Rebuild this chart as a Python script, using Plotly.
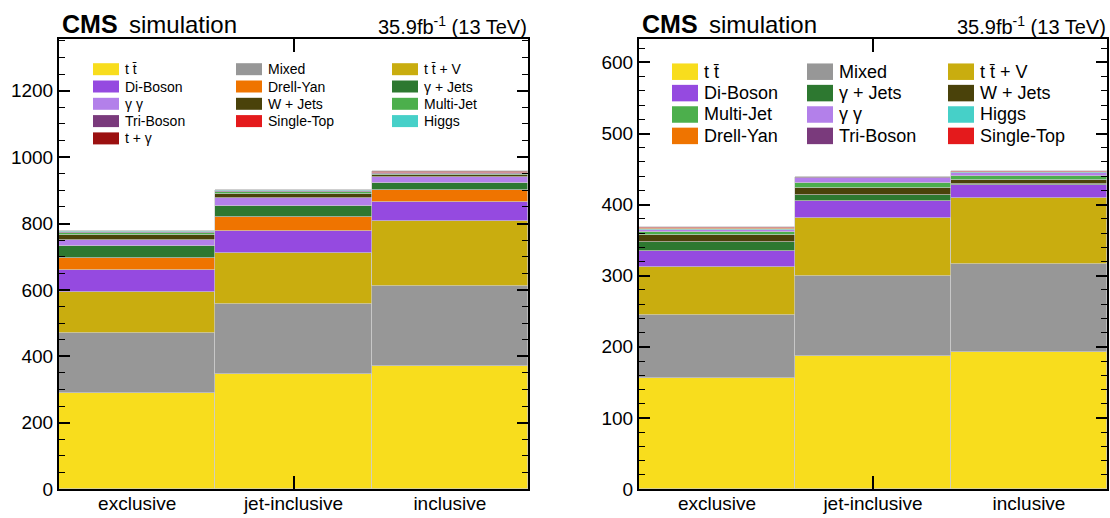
import plotly.graph_objects as go

W, H = 1110, 518

categories = ["exclusive", "jet-inclusive", "inclusive"]

# ---- left panel: processes in stacking order (bottom -> top) ----
left_names = ["t t\u0304", "Mixed", "t t\u0304 + V", "Di-Boson", "Drell-Yan", "\u03b3 + Jets",
              "\u03b3 \u03b3", "W + Jets", "Multi-Jet", "Tri-Boson", "Single-Top", "Higgs", "t + \u03b3"]
left_ttbar = [290, 346, 371]
left_mixed = [181, 212, 240]
left_ttv = [124, 154, 198]
left_diboson = [64, 66, 56]
left_dy = [38, 42, 36]
left_gjets = [34, 32, 22]
left_gg = [20, 24, 16]
left_wjets = [13, 12, 6]
left_multijet = [6, 6, 5]
left_triboson = [3, 3, 2.5]
left_singletop = [2, 2, 2]
left_higgs = [1.5, 1.5, 1.5]
left_tgamma = [1.5, 1.5, 1]
left_values = [left_ttbar, left_mixed, left_ttv, left_diboson, left_dy, left_gjets, left_gg,
               left_wjets, left_multijet, left_triboson, left_singletop, left_higgs, left_tgamma]

# ---- right panel ----
right_names = ["t t\u0304", "Mixed", "t t\u0304 + V", "Di-Boson", "\u03b3 + Jets", "W + Jets",
               "Multi-Jet", "\u03b3 \u03b3", "Higgs", "Drell-Yan", "Tri-Boson", "Single-Top"]
right_ttbar = [156, 186.4, 192.4]
right_mixed = [88.5, 113.7, 123.6]
right_ttv = [68, 81.5, 94]
right_diboson = [22, 23, 17]
right_gjets = [13, 8.4, 2.3]
right_wjets = [10.3, 10.3, 4.7]
right_multijet = [3.7, 6.6, 6]
right_gg = [2.8, 7.5, 5]
right_higgs = [1.0, 0.3, 0.5]
right_dy = [1.2, 0.3, 0.5]
right_triboson = [0.8, 0.2, 0.3]
right_singletop = [1.0, 0.3, 0.5]
right_values = [right_ttbar, right_mixed, right_ttv, right_diboson, right_gjets, right_wjets,
                right_multijet, right_gg, right_higgs, right_dy, right_triboson, right_singletop]

colors = {
    "t t\u0304": "#f8dd1d",
    "Mixed": "#979797",
    "t t\u0304 + V": "#c9ad0f",
    "Di-Boson": "#954ae0",
    "Drell-Yan": "#ef7400",
    "\u03b3 + Jets": "#2d7830",
    "\u03b3 \u03b3": "#b380ea",
    "W + Jets": "#4a420a",
    "Multi-Jet": "#4caf4c",
    "Tri-Boson": "#7a3a7c",
    "Single-Top": "#e41a1c",
    "Higgs": "#46d0c8",
    "t + \u03b3": "#9b1010",
}

FONT = "Liberation Sans, Arial, Helvetica, sans-serif"

fig = go.Figure()

xpos = list(range(len(categories)))

for names, values, xa, ya in [(left_names, left_values, "x", "y"),
                              (right_names, right_values, "x2", "y2")]:
    for name, vals in zip(names, values):
        fig.add_trace(go.Bar(
            x=xpos, y=vals, name=name, width=1.0,
            marker=dict(color=colors[name], line=dict(color="rgba(205,205,205,0.85)", width=0.8)),
            xaxis=xa, yaxis=ya, showlegend=False, hoverinfo="name+y",
        ))

# panel frames in pixel coordinates
L = dict(x0=59, x1=528, y0=39, y1=489)
R = dict(x0=639, x1=1107, y0=39, y1=489)


def px(x):
    return x / W


def py(y):
    return (H - y) / H


def xaxis_cfg(p):
    return dict(
        domain=[px(p["x0"]), px(p["x1"])], range=[-0.5, 2.5], automargin=False,
        tickmode="array", tickvals=xpos, ticktext=categories, ticks="",
        ticklabelstandoff=-4,
        showline=True, linecolor="black", linewidth=2, mirror="ticks",
        showgrid=False, zeroline=False,
        tickfont=dict(family=FONT, size=19, color="black"),
        minor=dict(tickmode="array", tickvals=[1], ticks="inside", ticklen=13,
                   tickcolor="black", tickwidth=1.5, showgrid=False),
        fixedrange=True,
    )


def yaxis_cfg(p, top, dtick, mdtick, anchor):
    return dict(
        domain=[py(p["y1"]), py(p["y0"])], range=[0, top], anchor=anchor, automargin=False,
        dtick=dtick, ticks="inside", ticklen=11, tickwidth=1.5, tickcolor="black",
        showline=True, linecolor="black", linewidth=2, mirror="ticks",
        showgrid=False, zeroline=False,
        tickfont=dict(family=FONT, size=19, color="black"),
        minor=dict(dtick=mdtick, ticks="inside", ticklen=6, tickwidth=1.2,
                   tickcolor="black", showgrid=False),
        fixedrange=True,
    )


fig.update_layout(
    width=W, height=H,
    margin=dict(l=0, r=0, t=0, b=0, autoexpand=False),
    paper_bgcolor="white", plot_bgcolor="white",
    barmode="stack", bargap=0,
    xaxis=dict(xaxis_cfg(L), anchor="y"),
    yaxis=yaxis_cfg(L, 1356, 200, 50, "x"),
    xaxis2=dict(xaxis_cfg(R), anchor="y2"),
    yaxis2=yaxis_cfg(R, 633, 100, 20, "x2"),
    font=dict(family=FONT, color="black"),
)

annotations = []
shapes = []

# CMS header labels
for p in (L, R):
    annotations.append(dict(
        x=px(p["x0"] + 1), y=py(34), xref="paper", yref="paper", xanchor="left", yanchor="bottom",
        text="<b>CMS</b>", showarrow=False, font=dict(family=FONT, size=25, color="black"),
        yshift=-6,
    ))
    annotations.append(dict(
        x=px(p["x0"] + 68), y=py(34), xref="paper", yref="paper", xanchor="left", yanchor="bottom",
        text="simulation", showarrow=False, font=dict(family=FONT, size=24, color="black"),
        yshift=-6,
    ))
    annotations.append(dict(
        x=px(p["x1"] + 1), y=py(34), xref="paper", yref="paper", xanchor="right", yanchor="bottom",
        text="35.9fb<sup>-1</sup> (13 TeV)", showarrow=False,
        font=dict(family=FONT, size=20, color="black"), yshift=-6,
    ))


def add_legend(names, col_swatch_x, row_y, sw_w, sw_h, text_gap, size):
    ncol = len(col_swatch_x)
    for i, name in enumerate(names):
        r, c = divmod(i, ncol)
        x0 = col_swatch_x[c]
        yc = row_y[0] + r * row_y[1]
        shapes.append(dict(
            type="rect", xref="paper", yref="paper",
            x0=px(x0), x1=px(x0 + sw_w), y0=py(yc + sw_h / 2), y1=py(yc - sw_h / 2),
            fillcolor=colors[name], line=dict(width=0), layer="above",
        ))
        annotations.append(dict(
            x=px(x0 + sw_w + text_gap), y=py(yc), xref="paper", yref="paper",
            xanchor="left", yanchor="middle", text=name, showarrow=False,
            font=dict(family=FONT, size=size, color="black"),
        ))


add_legend(left_names, [93, 236, 392], (69.2, 17.3), 26, 12, 4, 14)
add_legend(right_names, [672, 807, 948], (71.7, 21.4), 26, 16.5, 4, 18)

fig.update_layout(annotations=annotations, shapes=shapes)

fig.write_html("out.html")
